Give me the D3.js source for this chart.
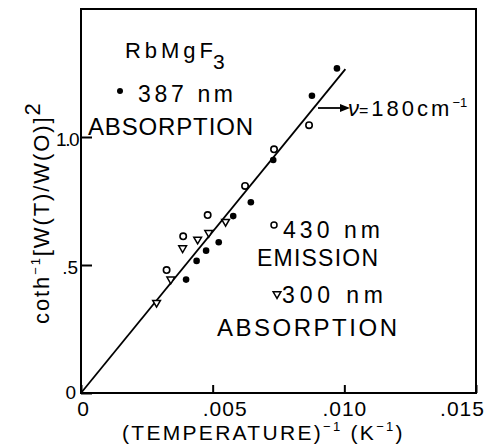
<!DOCTYPE html>
<html>
<head>
<meta charset="utf-8">
<script src="https://cdn.jsdelivr.net/npm/d3@7"></script>
<style>
  html, body { margin: 0; padding: 0; background: #fff; }
  svg { display: block; }
  text { font-family: "Liberation Sans", Arial, sans-serif; fill: #000; }
</style>
</head>
<body>
<div id="chart"></div>
<script>
// data: [1/T (K^-1), coth^-1 [W(T)/W(0)]^2]
const absorption387 = [
  [0.00399, 0.443], [0.00439, 0.516], [0.00475, 0.556], [0.00523, 0.589],
  [0.00578, 0.691], [0.00645, 0.745], [0.00730, 0.910], [0.00877, 1.161],
  [0.00972, 1.268]
];
const emission430 = [
  [0.00325, 0.480], [0.00388, 0.612], [0.00481, 0.695], [0.00623, 0.809],
  [0.00733, 0.952], [0.00866, 1.046]
];
const absorption300 = [
  [0.00287, 0.353], [0.00341, 0.444], [0.00386, 0.566], [0.00443, 0.600],
  [0.00485, 0.626], [0.00549, 0.669]
];
const fitLine = [[0, 0], [0.01004, 1.265]];

const xTicks = [0, 0.005, 0.010, 0.015];
const xTickLabels = ["0", ".005", ".010", ".015"];
const yTicks = [0, 0.5, 1.0];
const yTickLabels = ["0", ".5", "1.0"];

// 1) Dimensions
const width = 486;
const height = 444;
const plotLeft = 81, plotRight = 476, plotTop = 9, plotBottom = 393;

const svg = d3.select("#chart")
  .append("svg")
  .attr("width", width)
  .attr("height", height);

// 2) Scales
const x = d3.scaleLinear().domain([0, 0.015]).range([plotLeft, plotRight]);
const y = d3.scaleLinear().domain([0, 1.5]).range([plotBottom, plotTop]);

// 3) Frame
svg.append("rect")
  .attr("x", plotLeft).attr("y", plotTop)
  .attr("width", plotRight - plotLeft).attr("height", plotBottom - plotTop)
  .attr("fill", "none")
  .attr("stroke", "#000")
  .attr("stroke-width", 2);

// 4) Axes with inward ticks
const xAxis = d3.axisBottom(x)
  .tickValues(xTicks)
  .tickSize(-8)
  .tickFormat((d, i) => xTickLabels[i]);
const gx = svg.append("g")
  .attr("transform", `translate(0,${plotBottom})`)
  .call(xAxis);
gx.select(".domain").remove();
gx.selectAll("line").attr("stroke-width", 2);
gx.selectAll("text")
  .attr("y", 23)
  .attr("dy", 0)
  .style("font-size", "21px")
  .style("letter-spacing", "1px")
  .attr("dx", (d, i) => (i === 3 ? -14 : i === 1 ? 12 : i === 0 ? 2 : 0));

const yAxis = d3.axisLeft(y)
  .tickValues(yTicks)
  .tickSize(-11)
  .tickFormat((d, i) => yTickLabels[i]);
const gy = svg.append("g")
  .attr("transform", `translate(${plotLeft},0)`)
  .call(yAxis);
gy.select(".domain").remove();
gy.selectAll("line").attr("stroke-width", 2);
gy.selectAll("text")
  .attr("x", (d) => (d === 0 ? -5 : -3))
  .attr("dy", (d) => (d === 0 ? "0.3em" : "0.45em"))
  .style("font-size", "19px")
  .style("letter-spacing", (d) => (d === 1 ? "-1.5px" : "0px"));

// 5) Fit line
svg.append("path")
  .datum(fitLine)
  .attr("fill", "none")
  .attr("stroke", "#000")
  .attr("stroke-width", 1.8)
  .attr("d", d3.line().x(d => x(d[0])).y(d => y(d[1])));

// 6) Points
svg.append("g")
  .selectAll("circle")
  .data(absorption387)
  .join("circle")
  .attr("cx", d => x(d[0]))
  .attr("cy", d => y(d[1]))
  .attr("r", 3.3)
  .attr("fill", "#000");

svg.append("g")
  .selectAll("circle")
  .data(emission430)
  .join("circle")
  .attr("cx", d => x(d[0]))
  .attr("cy", d => y(d[1]))
  .attr("r", 3.2)
  .attr("fill", "#fff")
  .attr("stroke", "#000")
  .attr("stroke-width", 1.6);

const tri = d3.symbol().type(d3.symbolTriangle).size(26);
svg.append("g")
  .selectAll("path")
  .data(absorption300)
  .join("path")
  .attr("d", tri)
  .attr("transform", d => `translate(${x(d[0])},${y(d[1])}) rotate(180)`)
  .attr("fill", "#fff")
  .attr("stroke", "#000")
  .attr("stroke-width", 1.5);

// 7) Legend / labels
svg.append("text")
  .attr("x", 125).attr("y", 58)
  .attr("textLength", 88).attr("lengthAdjust", "spacing")
  .style("font-size", "22px").text("RbMgF");
svg.append("text")
  .attr("x", 213).attr("y", 69)
  .style("font-size", "21px").text("3");

svg.append("circle").attr("cx", 120).attr("cy", 91).attr("r", 3).attr("fill", "#000");
svg.append("text").attr("x", 138).attr("y", 102)
  .attr("textLength", 95).attr("lengthAdjust", "spacing")
  .style("font-size", "23px").text("387 nm");
svg.append("text").attr("x", 88).attr("y", 135)
  .attr("textLength", 165).attr("lengthAdjust", "spacing")
  .style("font-size", "24px").text("ABSORPTION");

svg.append("circle").attr("cx", 274).attr("cy", 225).attr("r", 3)
  .attr("fill", "#fff").attr("stroke", "#000").attr("stroke-width", 1.5);
svg.append("text").attr("x", 283).attr("y", 238)
  .attr("textLength", 97).attr("lengthAdjust", "spacing")
  .style("font-size", "23px").text("430 nm");
svg.append("text").attr("x", 257).attr("y", 266)
  .attr("textLength", 121).attr("lengthAdjust", "spacing")
  .style("font-size", "23px").text("EMISSION");

svg.append("path").attr("d", tri)
  .attr("transform", "translate(277,294) rotate(180)")
  .attr("fill", "#fff").attr("stroke", "#000").attr("stroke-width", 1.5);
svg.append("text").attr("x", 282).attr("y", 303)
  .attr("textLength", 101).attr("lengthAdjust", "spacing")
  .style("font-size", "23px").text("300 nm");
svg.append("text").attr("x", 217).attr("y", 336)
  .attr("textLength", 180).attr("lengthAdjust", "spacing")
  .style("font-size", "24px").text("ABSORPTION");

// 8) Arrow annotation
svg.append("line")
  .attr("x1", 318).attr("y1", 108).attr("x2", 342).attr("y2", 108)
  .attr("stroke", "#000").attr("stroke-width", 1.8);
svg.append("path")
  .attr("d", "M340,104 L350,108 L340,112 Z")
  .attr("fill", "#000");
const ann = svg.append("text").attr("x", 348).attr("y", 116)
  .style("font-size", "22px");
ann.append("tspan").style("font-style", "italic").text("ν");
ann.append("tspan").style("font-size", "16px").text("=");
ann.append("tspan").attr("dx", 3).style("letter-spacing", "3px").text("180cm");
ann.append("tspan").attr("dy", -9).style("font-size", "13px").text("−1");

// 9) Axis titles
const xt = svg.append("text")
  .attr("x", 122).attr("y", 440)
  .style("font-size", "21px")
  .style("letter-spacing", "2.3px");
xt.append("tspan").text("(TEMPERATURE)");
xt.append("tspan").attr("dy", -9).style("font-size", "13px").text("−1");
xt.append("tspan").attr("dy", 9).text(" (K");
xt.append("tspan").attr("dy", -9).style("font-size", "13px").text("−1");
xt.append("tspan").attr("dy", 9).text(")");

const yt = svg.append("text")
  .attr("transform", "translate(49,324) rotate(-90)")
  .style("font-size", "22px")
  .style("letter-spacing", "1.9px");
yt.append("tspan").text("coth");
yt.append("tspan").attr("dy", -9).style("font-size", "13px").text("−1");
yt.append("tspan").attr("dy", 9).text("[W(T)/W(O)]");
yt.append("tspan").attr("dy", -9).text("2");
</script>
</body>
</html>
